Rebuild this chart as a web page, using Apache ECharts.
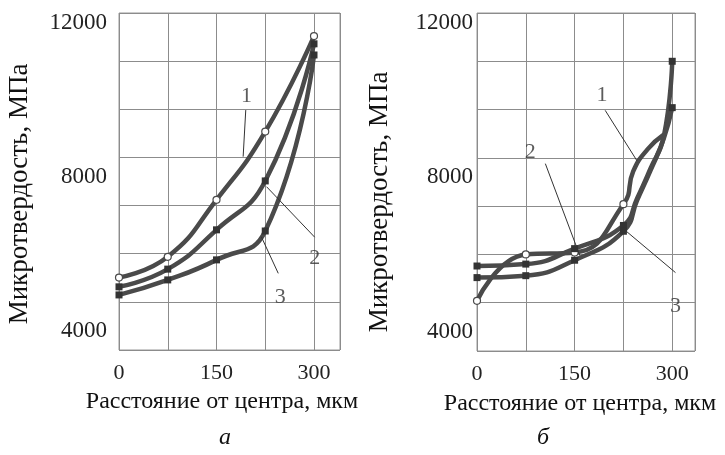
<!DOCTYPE html>
<html><head><meta charset="utf-8">
<script src="https://cdn.jsdelivr.net/npm/echarts@6/dist/echarts.min.js"></script>
<style>html,body{margin:0;padding:0;background:#fff}#c{width:725px;height:455px}</style>
</head><body><div id="c"></div>
<script>
// ---- data (distance from centre, µm; microhardness, MPa) ----
const distance = [0, 75, 150, 225, 300];
const leftCurve1 = [5380, 5920, 7400, 9170, 11650];
const leftCurve2 = [5140, 5600, 6620, 7890, 11450];
const leftCurve3 = [4930, 5320, 5840, 6590, 11160];

const rightDist1 = [0, 75, 150, 225, 240, 262, 287];
const rightCurve1 = [4800, 6000, 6050, 7300, 8150, 8720, 9100];
const rightDist23 = [0, 75, 150, 225, 246, 266, 287, 300];
const rightCurve2 = [5700, 5750, 6150, 6750, 7450, 8200, 9050, 11000];
const rightCurve3 = [5400, 5450, 5850, 6600, 7400, 8150, 9000, 9800];
const markedDistances = [0, 75, 150, 225, 300];

const xTickLabels = [0, 150, 300];
const yTickLabels = [4000, 8000, 12000];

// curve number labels and leader lines (data units)
const leftNumbers = [['1', 196, 10080], ['2', 301, 5880], ['3', 248, 4880]];
const leftLeaders = [[[195, 9730], [191, 8520]], [[227, 7740], [301, 6430]], [[219, 6440], [245, 5490]]];
const rightNumbers = [['1', 192, 10120], ['2', 82, 8650], ['3', 305, 4670]];
const rightLeaders = [[[197, 9730], [246, 8420]], [[105, 8350], [158, 5970]], [[228, 6620], [305, 5530]]];

const yTitle = 'Микротвердость, МПа';
const xTitle = 'Расстояние от центра, мкм';
const captions = ['а', 'б'];

// ---- chart ----
const SERIF = '"Liberation Serif", "DejaVu Serif", serif';
const LINE = '#4a4a4a';
const GRIDC = '#8c8c8c';

function pairs(xs, ys) {
  return xs.map((x, i) => {
    const item = { value: [x, ys[i]] };
    if (markedDistances.indexOf(x) < 0) item.symbol = 'none';
    return item;
  });
}

function xAxisFor(gi, max) {
  return {
    type: 'value', gridIndex: gi, min: 0, max: max, interval: 75,
    axisLine: { show: false }, axisTick: { show: false },
    splitLine: { show: true, lineStyle: { color: GRIDC, width: 1 } },
    axisLabel: { customValues: xTickLabels, formatter: v => String(v), fontFamily: SERIF, fontSize: 22, color: '#222', margin: 12 }
  };
}
function yAxisFor(gi, margin) {
  return {
    type: 'value', gridIndex: gi, min: 3500, max: 12250, interval: 1250,
    axisLine: { show: false }, axisTick: { show: false },
    splitLine: { show: true, lineStyle: { color: GRIDC, width: 1 } },
    axisLabel: { customValues: yTickLabels, formatter: v => String(v), fontFamily: SERIF, fontSize: 23, color: '#222', margin: margin }
  };
}
function curve(gi, xs, ys, sym) {
  return {
    type: 'line', xAxisIndex: gi, yAxisIndex: gi, data: pairs(xs, ys),
    smooth: 0.5,
    lineStyle: { color: LINE, width: 4.5 },
    symbol: sym, symbolSize: 7, showAllSymbol: true,
    itemStyle: sym === 'circle' ? { color: '#fff', borderColor: LINE, borderWidth: 1.2 } : { color: '#333' },
    z: 3, silent: true
  };
}
function leaders(gi, list) {
  return list.map(seg => ({
    type: 'line', xAxisIndex: gi, yAxisIndex: gi, data: seg, symbol: 'none',
    lineStyle: { color: '#333', width: 1 }, z: 4, silent: true
  }));
}
function numbers(gi, list) {
  return {
    type: 'scatter', xAxisIndex: gi, yAxisIndex: gi, symbolSize: 0, silent: true, z: 5,
    data: list.map(n => ({ name: n[0], value: [n[1], n[2]] })),
    label: { show: true, position: 'inside', formatter: p => p.name, fontFamily: SERIF, fontSize: 22, color: '#333' }
  };
}
function text(x, y, t, opts) {
  return Object.assign({
    type: 'text', x: x, y: y,
    style: Object.assign({ text: t, fontFamily: SERIF, fontSize: 24, fill: '#111', align: 'center', verticalAlign: 'middle' }, (opts && opts.style) || {})
  }, (opts && opts.el) || {});
}

const chart = echarts.init(document.getElementById('c'), null, { renderer: 'canvas' });
chart.setOption({
  animation: false,
  backgroundColor: '#fff',
  grid: [
    { left: 119, top: 13, width: 221, height: 337, show: true, borderColor: '#999', borderWidth: 1, containLabel: false },
    { left: 477, top: 13, width: 218, height: 338, show: true, borderColor: '#999', borderWidth: 1, containLabel: false }
  ],
  xAxis: [xAxisFor(0, 340), xAxisFor(1, 335)],
  yAxis: [yAxisFor(0, 12), yAxisFor(1, 4)],
  series: [
    curve(0, distance, leftCurve1, 'circle'),
    curve(0, distance, leftCurve2, 'rect'),
    curve(0, distance, leftCurve3, 'rect'),
    curve(1, rightDist1, rightCurve1, 'circle'),
    curve(1, rightDist23, rightCurve2, 'rect'),
    curve(1, rightDist23, rightCurve3, 'rect'),
    ...leaders(0, leftLeaders),
    ...leaders(1, rightLeaders),
    numbers(0, leftNumbers),
    numbers(1, rightNumbers)
  ],
  graphic: [
    text(20, 194, yTitle, { el: { rotation: Math.PI / 2 }, style: { fontSize: 27 } }),
    text(380, 202, yTitle, { el: { rotation: Math.PI / 2 }, style: { fontSize: 27 } }),
    text(222, 402, xTitle),
    text(580, 404, xTitle),
    text(225, 438, captions[0], { style: { fontStyle: 'italic' } }),
    text(543, 438, captions[1], { style: { fontStyle: 'italic' } })
  ]
});
</script></body></html>
